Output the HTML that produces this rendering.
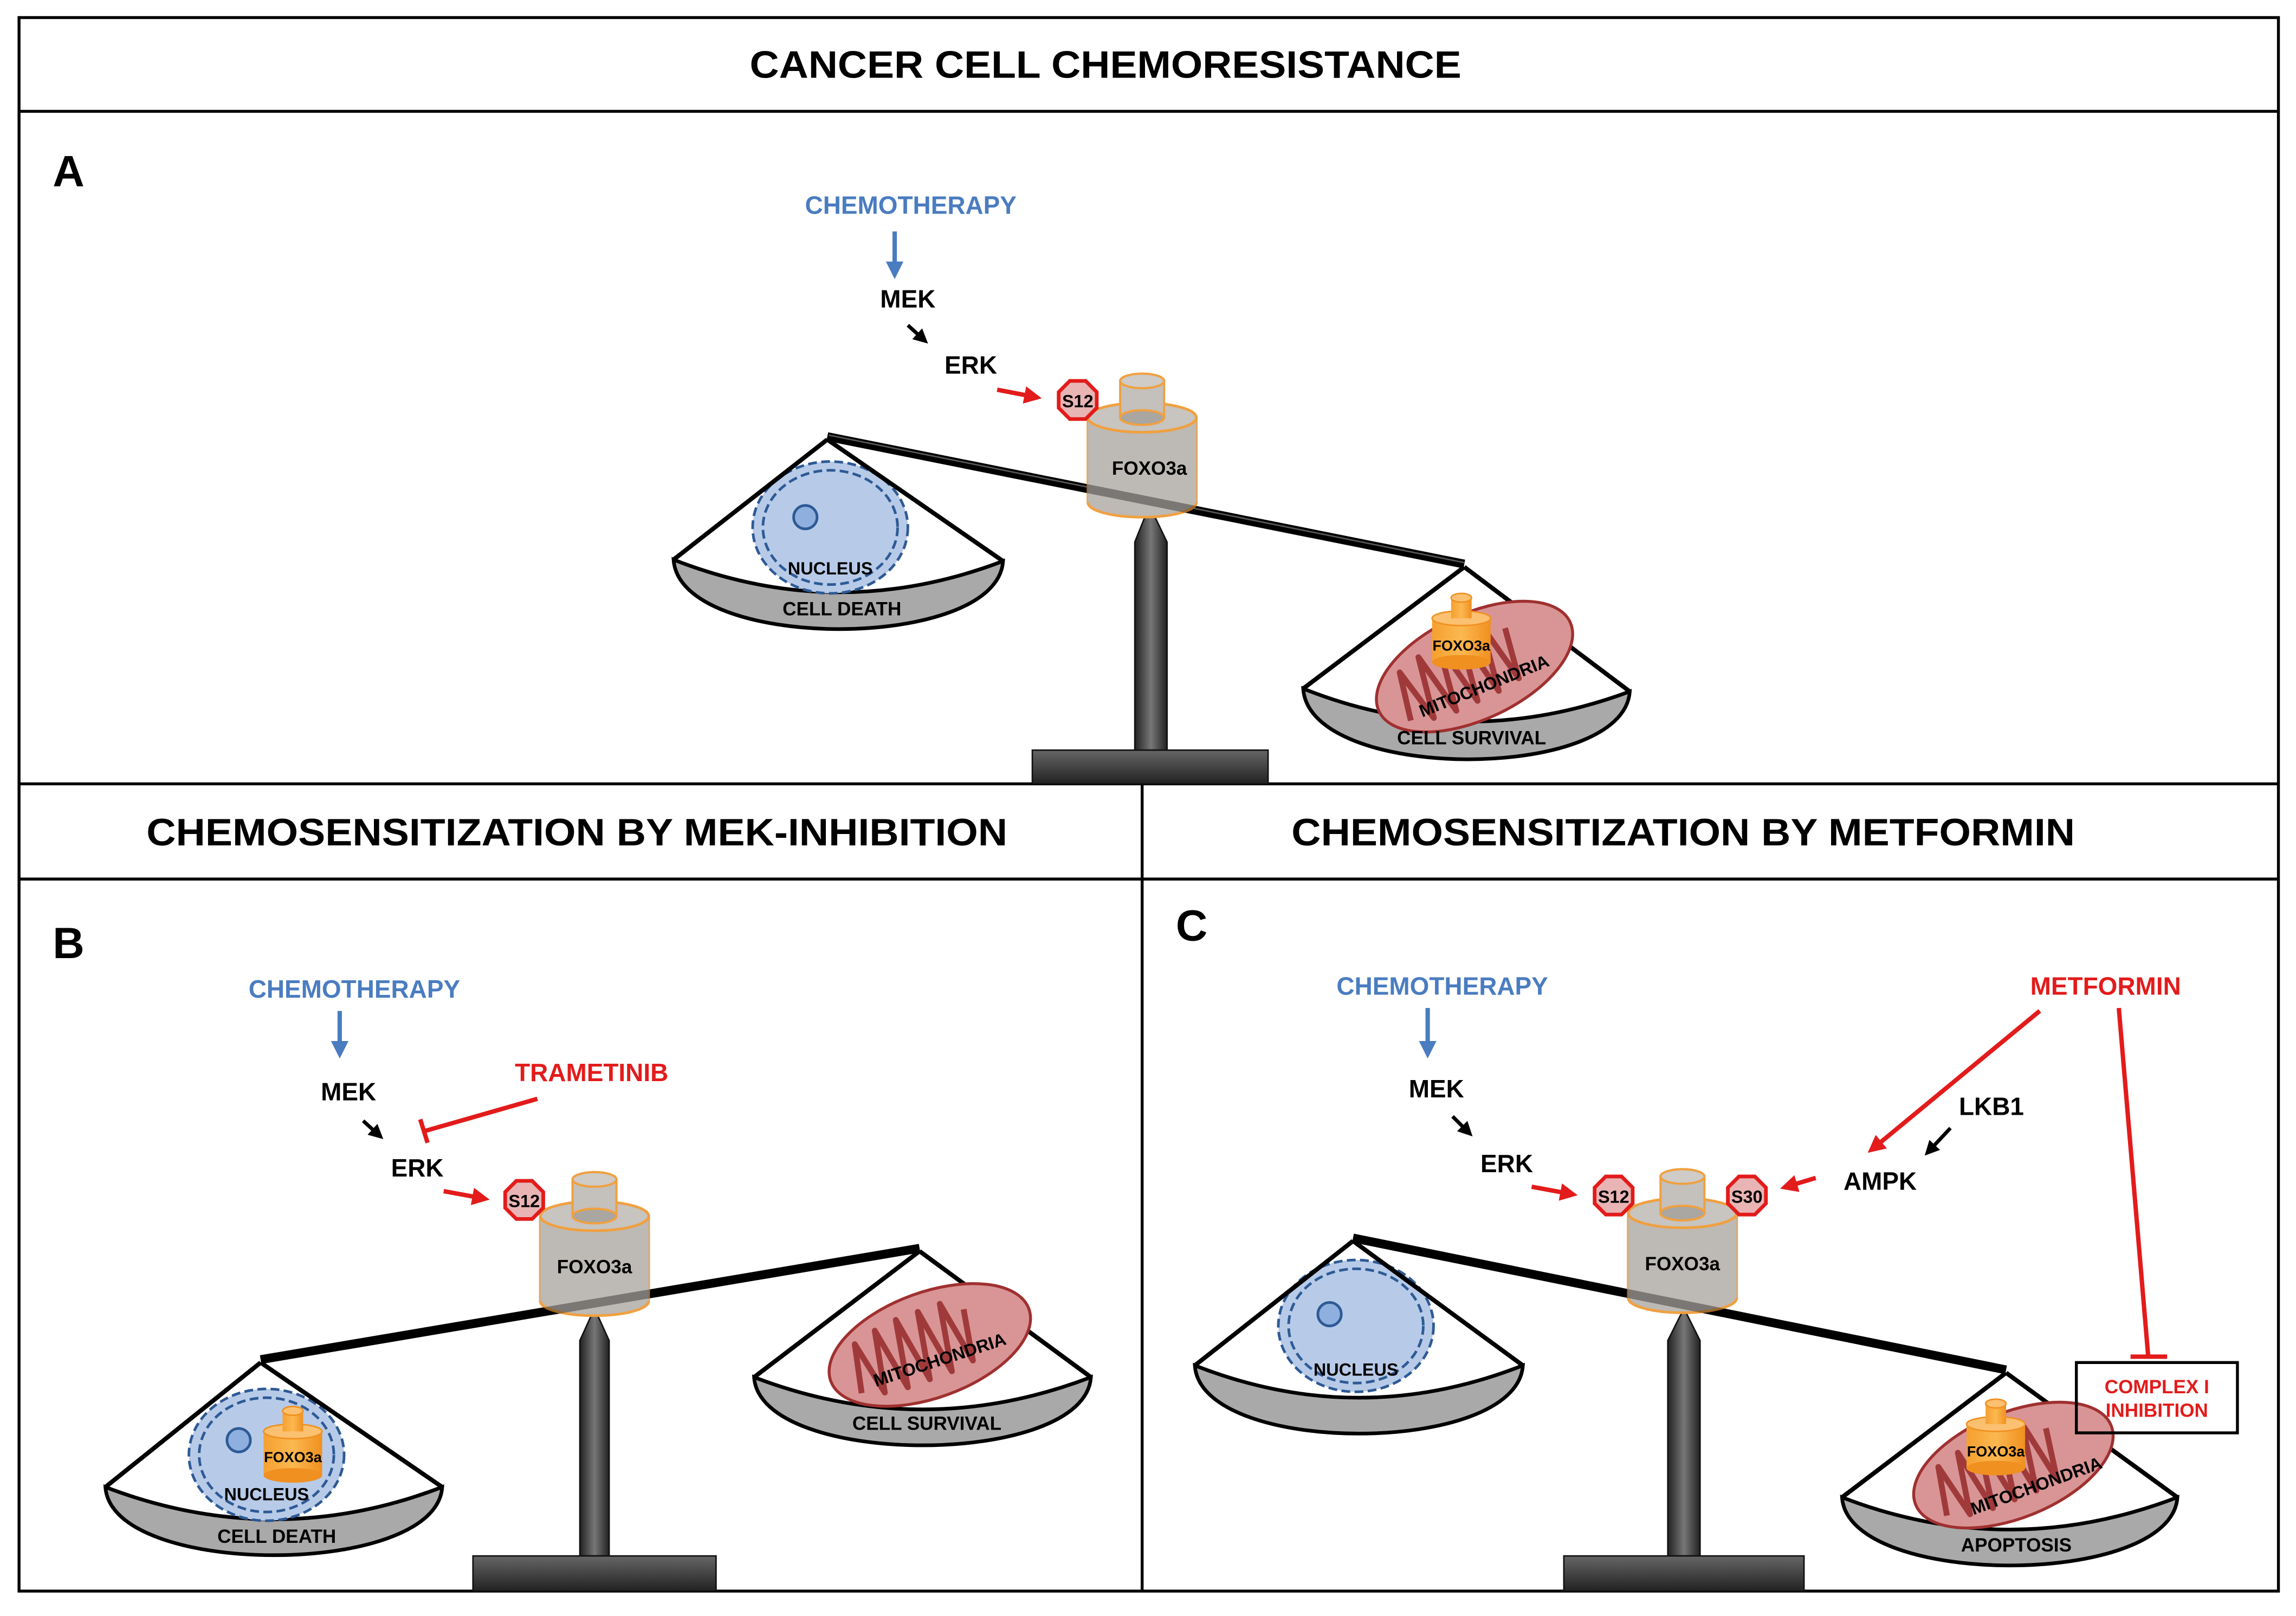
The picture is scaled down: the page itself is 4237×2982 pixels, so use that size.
<!DOCTYPE html>
<html><head><meta charset="utf-8"><style>html,body{margin:0;padding:0;background:#fff}svg{display:block}text{font-family:"Liberation Sans",Arial,sans-serif;font-weight:bold}</style></head>
<body>
<svg width="4237" height="2982" viewBox="0 0 1568 1103" preserveAspectRatio="none" xmlns="http://www.w3.org/2000/svg">
<defs>
<marker id="ar" markerWidth="4" markerHeight="4" refX="2.5" refY="2" orient="auto" markerUnits="strokeWidth"><path d="M0,0 L4,2 L0,4 z" fill="#e31b1b"/></marker>
<marker id="ab" markerWidth="4" markerHeight="4" refX="2.5" refY="2" orient="auto" markerUnits="strokeWidth"><path d="M0,0 L4,2 L0,4 z" fill="#000"/></marker>
<marker id="au" markerWidth="4" markerHeight="4" refX="2.5" refY="2" orient="auto" markerUnits="strokeWidth"><path d="M0,0 L4,2 L0,4 z" fill="#4a7cc0"/></marker>
<linearGradient id="pil" x1="0" x2="1"><stop offset="0" stop-color="#222"/><stop offset="0.5" stop-color="#777"/><stop offset="1" stop-color="#222"/></linearGradient>
<linearGradient id="bas" x1="0" y1="0" x2="0" y2="1"><stop offset="0" stop-color="#666"/><stop offset="1" stop-color="#222"/></linearGradient>
<linearGradient id="org" x1="0" x2="1"><stop offset="0" stop-color="#f5a030"/><stop offset="0.5" stop-color="#fbb850"/><stop offset="1" stop-color="#f09020"/></linearGradient>
<g id="mito"><ellipse cx="0" cy="0" rx="72" ry="36" fill="#d99595" stroke="#a03030" stroke-width="2"/><path d="M-55,15 L-48,-18 L-40,20 L-32,-22 L-24,22 L-16,-24 L-8,22 L0,-24 L8,22 L16,-24 L24,20 L30,-15" fill="none" stroke="#a03a3a" stroke-width="4" stroke-linejoin="round"/></g>
<g id="nuc"><ellipse cx="0" cy="0" rx="53" ry="45" fill="#b7cbe8" stroke="#2e5a95" stroke-width="1.8" stroke-dasharray="6,3"/><ellipse cx="0" cy="0" rx="46" ry="39" fill="none" stroke="#2e5a95" stroke-width="1.8" stroke-dasharray="6,3"/></g>
<g id="foxL"><rect x="-37" y="0" width="74" height="58" fill="#bdb9b4" stroke="#f0a040" stroke-width="1.8"/><ellipse cx="0" cy="58" rx="37" ry="10" fill="#bdb9b4" stroke="#f0a040" stroke-width="1.8"/><rect x="-37" y="0" width="74" height="58" fill="#bdb9b4" stroke="none"/><ellipse cx="0" cy="0" rx="37" ry="10" fill="#c8c4bf" stroke="#f0a040" stroke-width="1.8"/><rect x="-15" y="-25" width="30" height="25" fill="#c4c0bb" stroke="#f0a040" stroke-width="1.5"/><ellipse cx="0" cy="0" rx="15" ry="5" fill="#aaa6a1" stroke="#f0a040" stroke-width="1.5"/><ellipse cx="0" cy="-25" rx="15" ry="5" fill="#cfcbc6" stroke="#f0a040" stroke-width="1.5"/></g>
<g id="foxS"><rect x="-20" y="-8" width="40" height="30" fill="url(#org)"/><ellipse cx="0" cy="22" rx="20" ry="5" fill="#f09020"/><ellipse cx="0" cy="-8" rx="20" ry="5" fill="#fbc070" stroke="#f09020"/><rect x="-7" y="-22" width="14" height="14" fill="url(#org)"/><ellipse cx="0" cy="-22" rx="7" ry="3" fill="#fbc070" stroke="#f09020"/></g>
<polygon id="oct" points="-5.4,-13 5.4,-13 13,-5.4 13,5.4 5.4,13 -5.4,13 -13,5.4 -13,-5.4" fill="#e9b4b4" stroke="#e31b1b" stroke-width="2.5"/>
</defs>
<rect width="1568" height="1103" fill="#fff"/>
<rect x="13" y="12" width="1543" height="1074" fill="none" stroke="#000" stroke-width="2"/>
<line x1="13" y1="76" x2="1556" y2="76" stroke="#000" stroke-width="2"/>
<line x1="13" y1="535" x2="1556" y2="535" stroke="#000" stroke-width="2"/>
<line x1="13" y1="600" x2="1556" y2="600" stroke="#000" stroke-width="2"/>
<line x1="780" y1="535" x2="780" y2="1086" stroke="#000" stroke-width="2"/>
<text x="512" y="53" font-size="26" textLength="486" lengthAdjust="spacingAndGlyphs">CANCER CELL CHEMORESISTANCE</text>
<text x="100" y="577" font-size="26" textLength="588" lengthAdjust="spacingAndGlyphs">CHEMOSENSITIZATION BY MEK-INHIBITION</text>
<text x="882" y="577" font-size="26" textLength="535" lengthAdjust="spacingAndGlyphs">CHEMOSENSITIZATION BY METFORMIN</text>
<text x="36" y="127" font-size="30">A</text>
<text x="36" y="654" font-size="30">B</text>
<text x="803" y="642" font-size="30">C</text>

<!-- ===== PANEL A ===== -->
<text x="622" y="146" font-size="17" fill="#4a7cc0" text-anchor="middle">CHEMOTHERAPY</text>
<line x1="611" y1="158" x2="611" y2="186" stroke="#4a7cc0" stroke-width="3" marker-end="url(#au)"/>
<text x="620" y="210" font-size="17" text-anchor="middle">MEK</text>
<line x1="620" y1="222" x2="631" y2="232" stroke="#000" stroke-width="2.5" marker-end="url(#ab)"/>
<text x="663" y="255" font-size="17" text-anchor="middle">ERK</text>
<line x1="681" y1="266" x2="707" y2="271" stroke="#e31b1b" stroke-width="3" marker-end="url(#ar)"/>
<polygon points="785,345 797,370 797,512 775,512 775,370" fill="url(#pil)" stroke="#111"/>
<rect x="705" y="512" width="161" height="23" fill="url(#bas)" stroke="#111"/>
<path d="M460,382 Q572,426 685,383 C681,445 464,445 460,382 Z" fill="#a9a9a9" stroke="#000" stroke-width="2.5"/>
<use href="#nuc" x="567" y="360"/>
<circle cx="550" cy="353" r="8" fill="#8fb0de" stroke="#2e5a95" stroke-width="1.8"/>
<text x="567" y="392" font-size="12" text-anchor="middle">NUCLEUS</text>
<line x1="565" y1="300" x2="460" y2="382" stroke="#000" stroke-width="3"/>
<line x1="565" y1="300" x2="685" y2="383" stroke="#000" stroke-width="3"/>
<text x="575" y="420" font-size="13" text-anchor="middle">CELL DEATH</text>
<path d="M890,470 Q1000,514 1113,472 C1109,534 894,534 890,470 Z" fill="#a9a9a9" stroke="#000" stroke-width="2.5"/>
<line x1="1000" y1="387" x2="890" y2="470" stroke="#000" stroke-width="3"/>
<line x1="1000" y1="387" x2="1113" y2="472" stroke="#000" stroke-width="3"/>
<use href="#mito" transform="translate(1007,455) rotate(-25)"/>
<text transform="translate(1015,472) rotate(-22)" font-size="12" text-anchor="middle">MITOCHONDRIA</text>
<use href="#foxS" x="998" y="430"/>
<text x="998" y="444" font-size="10" text-anchor="middle">FOXO3a</text>
<text x="1005" y="508" font-size="13" text-anchor="middle">CELL SURVIVAL</text>
<line x1="565" y1="298" x2="1000" y2="385" stroke="#000" stroke-width="6"/>
<line x1="566" y1="297" x2="1000" y2="384" stroke="#888" stroke-width="1"/>
<use href="#foxL" x="780" y="285"/>
<line x1="565" y1="298" x2="1000" y2="385" stroke="#000" stroke-width="6" opacity="0.35"/>
<text x="785" y="324" font-size="13" text-anchor="middle">FOXO3a</text>
<use href="#oct" x="736" y="273"/>
<text x="736" y="278" font-size="12" text-anchor="middle">S12</text>

<!-- ===== PANEL B ===== -->
<text x="242" y="681" font-size="17" fill="#4a7cc0" text-anchor="middle">CHEMOTHERAPY</text>
<line x1="232" y1="690" x2="232" y2="718" stroke="#4a7cc0" stroke-width="3" marker-end="url(#au)"/>
<text x="238" y="751" font-size="17" text-anchor="middle">MEK</text>
<line x1="248" y1="765" x2="259" y2="775" stroke="#000" stroke-width="2.5" marker-end="url(#ab)"/>
<text x="285" y="803" font-size="17" text-anchor="middle">ERK</text>
<line x1="303" y1="813" x2="330" y2="818" stroke="#e31b1b" stroke-width="3" marker-end="url(#ar)"/>
<text x="404" y="738" font-size="17" fill="#e31b1b" text-anchor="middle">TRAMETINIB</text>
<line x1="367" y1="750" x2="290" y2="772" stroke="#e31b1b" stroke-width="3"/>
<line x1="287" y1="764" x2="292" y2="780" stroke="#e31b1b" stroke-width="3"/>
<polygon points="406,893 416,915 416,1062 396,1062 396,915" fill="url(#pil)" stroke="#111"/>
<rect x="323" y="1062" width="166" height="24" fill="url(#bas)" stroke="#111"/>
<path d="M72,1015 Q187,1059 302,1015 C298,1077 76,1077 72,1015 Z" fill="#a9a9a9" stroke="#000" stroke-width="2.5"/>
<use href="#nuc" x="182" y="993"/>
<circle cx="163" cy="983" r="8" fill="#8fb0de" stroke="#2e5a95" stroke-width="1.8"/>
<line x1="178" y1="930" x2="72" y2="1015" stroke="#000" stroke-width="3"/>
<line x1="178" y1="930" x2="302" y2="1015" stroke="#000" stroke-width="3"/>
<use href="#foxS" x="200" y="985"/>
<text x="200" y="998" font-size="10" text-anchor="middle">FOXO3a</text>
<text x="182" y="1024" font-size="12" text-anchor="middle">NUCLEUS</text>
<text x="189" y="1053" font-size="13" text-anchor="middle">CELL DEATH</text>
<path d="M515,940 Q630,984 745,940 C741,1002 519,1002 515,940 Z" fill="#a9a9a9" stroke="#000" stroke-width="2.5"/>
<line x1="628" y1="854" x2="515" y2="940" stroke="#000" stroke-width="3"/>
<line x1="628" y1="854" x2="745" y2="940" stroke="#000" stroke-width="3"/>
<use href="#mito" transform="translate(635,918) rotate(-20)"/>
<text transform="translate(643,932) rotate(-18)" font-size="12" text-anchor="middle">MITOCHONDRIA</text>
<text x="633" y="976" font-size="13" text-anchor="middle">CELL SURVIVAL</text>
<line x1="178" y1="928" x2="628" y2="852" stroke="#000" stroke-width="6"/>
<use href="#foxL" x="406" y="830"/>
<line x1="178" y1="928" x2="628" y2="852" stroke="#000" stroke-width="6" opacity="0.35"/>
<text x="406" y="869" font-size="13" text-anchor="middle">FOXO3a</text>
<use href="#oct" x="358" y="819"/>
<text x="358" y="824" font-size="12" text-anchor="middle">S12</text>

<!-- ===== PANEL C ===== -->
<text x="985" y="679" font-size="17" fill="#4a7cc0" text-anchor="middle">CHEMOTHERAPY</text>
<line x1="975" y1="688" x2="975" y2="718" stroke="#4a7cc0" stroke-width="3" marker-end="url(#au)"/>
<text x="981" y="749" font-size="17" text-anchor="middle">MEK</text>
<line x1="992" y1="762" x2="1003" y2="773" stroke="#000" stroke-width="2.5" marker-end="url(#ab)"/>
<text x="1029" y="800" font-size="17" text-anchor="middle">ERK</text>
<line x1="1046" y1="810" x2="1073" y2="815" stroke="#e31b1b" stroke-width="3" marker-end="url(#ar)"/>
<text x="1284" y="812" font-size="17" text-anchor="middle">AMPK</text>
<line x1="1240" y1="804" x2="1220" y2="810" stroke="#e31b1b" stroke-width="3" marker-end="url(#ar)"/>
<text x="1360" y="761" font-size="17" text-anchor="middle">LKB1</text>
<line x1="1332" y1="770" x2="1317" y2="786" stroke="#000" stroke-width="2.5" marker-end="url(#ab)"/>
<text x="1438" y="679" font-size="17" fill="#e31b1b" text-anchor="middle">METFORMIN</text>
<line x1="1393" y1="690" x2="1279" y2="784" stroke="#e31b1b" stroke-width="3" marker-end="url(#ar)"/>
<line x1="1447" y1="688" x2="1467" y2="925" stroke="#e31b1b" stroke-width="3"/>
<line x1="1455" y1="926" x2="1480" y2="926" stroke="#e31b1b" stroke-width="3"/>
<polygon points="1150,893 1161,915 1161,1062 1139,1062 1139,915" fill="url(#pil)" stroke="#111"/>
<rect x="1068" y="1062" width="164" height="24" fill="url(#bas)" stroke="#111"/>
<path d="M816,932 Q928,976 1040,932 C1036,994 820,994 816,932 Z" fill="#a9a9a9" stroke="#000" stroke-width="2.5"/>
<use href="#nuc" x="926" y="905"/>
<circle cx="908" cy="897" r="8" fill="#8fb0de" stroke="#2e5a95" stroke-width="1.8"/>
<line x1="924" y1="847" x2="816" y2="932" stroke="#000" stroke-width="3"/>
<line x1="924" y1="847" x2="1040" y2="932" stroke="#000" stroke-width="3"/>
<text x="926" y="939" font-size="12" text-anchor="middle">NUCLEUS</text>
<path d="M1258,1022 Q1372,1066 1487,1022 C1483,1084 1262,1084 1258,1022 Z" fill="#a9a9a9" stroke="#000" stroke-width="2.5"/>
<line x1="1370" y1="937" x2="1258" y2="1022" stroke="#000" stroke-width="3"/>
<line x1="1370" y1="937" x2="1487" y2="1022" stroke="#000" stroke-width="3"/>
<use href="#mito" transform="translate(1375,1000) rotate(-22)"/>
<text transform="translate(1392,1018) rotate(-20)" font-size="12" text-anchor="middle">MITOCHONDRIA</text>
<use href="#foxS" x="1363" y="980"/>
<text x="1363" y="994" font-size="10" text-anchor="middle">FOXO3a</text>
<text x="1377" y="1059" font-size="13" text-anchor="middle">APOPTOSIS</text>
<rect x="1418" y="930" width="110" height="48" fill="none" stroke="#000" stroke-width="2"/>
<text x="1473" y="951" font-size="13" fill="#e31b1b" text-anchor="middle">COMPLEX I</text>
<text x="1473" y="967" font-size="13" fill="#e31b1b" text-anchor="middle">INHIBITION</text>
<line x1="924" y1="845" x2="1370" y2="935" stroke="#000" stroke-width="6"/>
<use href="#foxL" x="1149" y="828"/>
<line x1="924" y1="845" x2="1370" y2="935" stroke="#000" stroke-width="6" opacity="0.35"/>
<text x="1149" y="867" font-size="13" text-anchor="middle">FOXO3a</text>
<use href="#oct" x="1102" y="816"/>
<text x="1102" y="821" font-size="12" text-anchor="middle">S12</text>
<use href="#oct" x="1193" y="816"/>
<text x="1193" y="821" font-size="12" text-anchor="middle">S30</text>
</svg>
</body></html>
